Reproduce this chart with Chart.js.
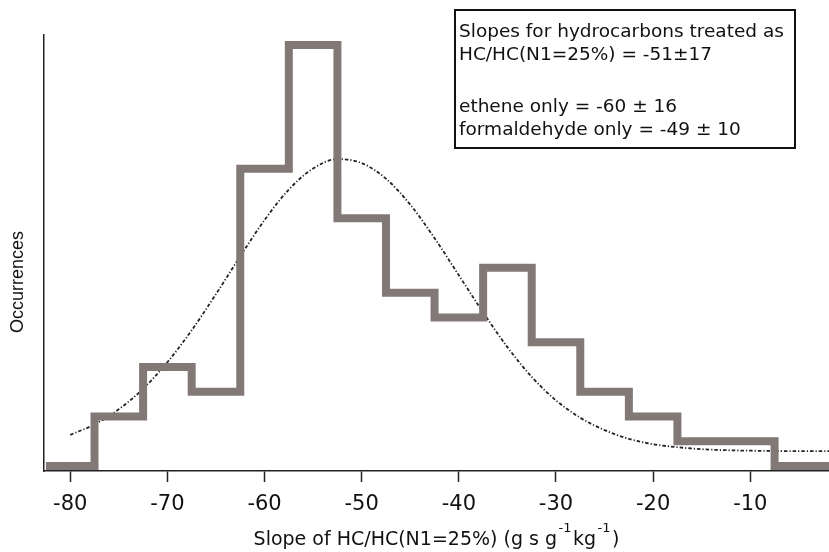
<!DOCTYPE html>
<html>
<head>
<meta charset="utf-8">
<script src="https://cdn.jsdelivr.net/npm/chart.js@4.4.1/dist/chart.umd.min.js"></script>
<style>
  body { margin: 0; background: #fff; }
</style>
</head>
<body>
<canvas id="slope-chart" width="829" height="552"></canvas>
<script>
// histogram: left edge of each 5-unit bin and its count
const binStarts = [-82.5, -77.5, -72.5, -67.5, -62.5, -57.5, -52.5, -47.5, -42.5, -37.5, -32.5, -27.5, -22.5, -17.5, -12.5, -7.5, -2.5];
const counts = [0, 2, 4, 3, 12, 17, 10, 7, 6, 8, 5, 3, 2, 1, 1, 0, 0];
const binWidth = 5;

// gaussian fit curve
const fitX = [-80, -77.5, -75, -72.5, -70, -67.5, -65, -62.5, -60, -57.5, -55, -52.5, -50, -47.5, -45, -42.5, -40, -37.5, -35, -32.5, -30, -27.5, -25, -22.5, -20, -17.5, -15, -12.5, -10, -7.5, -5, -2.5, 0];
const fitY = [1.26, 1.68, 2.29, 3.12, 4.19, 5.48, 6.94, 8.47, 9.93, 11.16, 12.01, 12.39, 12.23, 11.6, 10.55, 9.2, 7.7, 6.2, 4.8, 3.6, 2.65, 1.95, 1.45, 1.1, 0.88, 0.76, 0.68, 0.64, 0.62, 0.61, 0.60, 0.60, 0.60];

const xTicks = [-80, -70, -60, -50, -40, -30, -20, -10];

const boxLines = [
    "Slopes for hydrocarbons treated as",
    "HC/HC(N1=25%) = -51\u00b117",
    "",
    "ethene only = -60 \u00b1 16",
    "formaldehyde only = -49 \u00b1 10"
];

const histPoints = binStarts.map((x, i) => ({ x: x, y: counts[i] }));
histPoints.push({ x: binStarts[binStarts.length - 1] + binWidth, y: counts[counts.length - 1] });

const textFont = "'DejaVu Sans', sans-serif";

const decorations = {
    id: 'decorations',
    afterDraw(chart) {
        const ctx = chart.ctx;
        const area = chart.chartArea;
        ctx.save();

        // y title
        ctx.fillStyle = '#111';
        ctx.font = "18px 'Liberation Sans', Arial, sans-serif";
        ctx.textAlign = 'center';
        ctx.textBaseline = 'middle';
        ctx.translate(18, 282);
        ctx.rotate(-Math.PI / 2);
        ctx.fillText('Occurrences', 0, 0);
        ctx.restore();

        // x title with superscripts
        ctx.save();
        ctx.fillStyle = '#111';
        const parts = [
            ['Slope of HC/HC(N1=25%) (g s g', false],
            ['-1', true],
            ['kg', false],
            ['-1', true],
            [')', false]
        ];
        const big = "19px " + textFont, small = "13px " + textFont;
        let total = 0;
        parts.forEach(p => { ctx.font = p[1] ? small : big; total += ctx.measureText(p[0]).width + (p[1] ? 3 : 0); });
        let x = (area.left + area.right) / 2 - total / 2;
        const y = 540;
        ctx.textBaseline = 'middle';
        ctx.textAlign = 'left';
        parts.forEach(p => {
            ctx.font = p[1] ? small : big;
            ctx.fillText(p[0], x + (p[1] ? 1.5 : 0), p[1] ? y - 11 : y);
            x += ctx.measureText(p[0]).width + (p[1] ? 3 : 0);
        });

        // note box
        ctx.fillStyle = '#fff';
        ctx.fillRect(455, 10, 340, 138);
        ctx.strokeStyle = '#111';
        ctx.lineWidth = 2;
        ctx.strokeRect(455, 10, 340, 138);
        ctx.fillStyle = '#111';
        ctx.font = "18.5px " + textFont;
        const lineY = [32, 55, 81, 107, 130];
        boxLines.forEach((t, i) => ctx.fillText(t, 459, lineY[i]));
        ctx.restore();
    }
};

new Chart(document.getElementById('slope-chart'), {
    type: 'line',
    data: {
        datasets: [
            {
                label: 'histogram',
                data: histPoints,
                stepped: 'before',
                borderColor: '#827976',
                borderWidth: 8,
                borderJoinStyle: 'miter',
                borderCapStyle: 'butt',
                pointRadius: 0,
                fill: false
            },
            {
                label: 'fit',
                data: fitX.map((x, i) => ({ x: x, y: fitY[i] })),
                borderColor: '#222',
                borderWidth: 1.8,
                borderDash: [3.5, 2, 1.2, 2],
                cubicInterpolationMode: 'monotone',
                pointRadius: 0,
                fill: false
            }
        ]
    },
    options: {
        responsive: false,
        animation: false,
        devicePixelRatio: 1,
        layout: { padding: { top: 35, left: 0, right: 0, bottom: 0 } },
        plugins: {
            legend: { display: false },
            tooltip: { enabled: false }
        },
        scales: {
            x: {
                type: 'linear',
                min: -82.7,
                max: -1.9,
                afterBuildTicks: scale => { scale.ticks = xTicks.map(v => ({ value: v })); },
                afterFit: scale => { scale.height = 81; },
                grid: {
                    drawOnChartArea: false,
                    drawTicks: true,
                    tickLength: 11,
                    tickColor: '#222',
                    tickWidth: 1.5
                },
                border: { color: '#222', width: 1.5 },
                ticks: {
                    color: '#111',
                    padding: 10,
                    maxRotation: 0,
                    font: { family: textFont, size: 21 }
                }
            },
            y: {
                min: -0.2,
                max: 17.4,
                afterFit: scale => { scale.width = 44; },
                grid: { drawOnChartArea: false, drawTicks: false },
                border: { color: '#222', width: 1.5 },
                ticks: { display: false }
            }
        }
    },
    plugins: [decorations]
});
</script>
</body>
</html>
